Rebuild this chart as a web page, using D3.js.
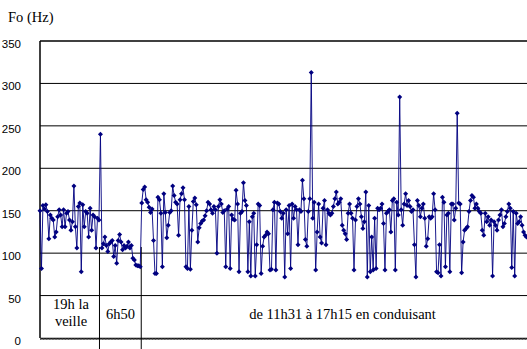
<!DOCTYPE html>
<html>
<head>
<meta charset="utf-8">
<script src="https://cdn.jsdelivr.net/npm/d3@7"></script>
<style>
body{margin:0;background:#fff;}
svg{display:block;}
.serif{font-family:"Liberation Serif","Times New Roman",serif;}
.sans{font-family:"Liberation Sans",Arial,sans-serif;}
</style>
</head>
<body>
<div class="chart"></div>
<script>
// Fo values, in three recording sessions
var eveningF0 = [150,82,156,152,157,149,117,145,141,139,119,125,143,151,145,131,151,131,147,149,
  139,127,137,179,131,106,155,159,78,157,131,149,147,119,153,127,145,143,106,141,139];
var morningF0 = [240,106,111,119,109,102,111,113,115,96,109,88,115,122,113,104,109,106,108,113,
  106,109,94,92,86,85,85,84];
var drivingF0 = [159,175,178,163,160,154,148,152,115,76,76,166,163,147,84,170,148,118,133,148,
  150,179,168,160,158,121,163,170,177,163,84,82,155,81,127,161,165,157,113,130,
  135,138,139,144,150,160,158,151,147,155,151,100,155,163,158,148,150,84,152,155,
  82,145,140,
  139,174,158,78,147,149,183,162,156,78,137,73,143,147,73,110,158,156,76,108,
  119,121,125,123,80,81,151,160,80,159,158,149,141,147,72,151,123,156,82,158,
  141,155,151,110,151,149,186,164,116,108,149,164,313,141,160,80,125,158,119,112,
  153,162,110,151,147,
  145,147,155,164,172,158,160,164,133,127,123,116,147,158,147,141,80,139,155,164,
  158,143,129,137,172,72,156,78,119,80,141,82,153,151,153,158,135,80,147,149,
  151,125,162,164,80,160,145,284,151,133,158,170,156,162,155,149,151,110,72,162,
  156,143,153,158,141,108,117,143,
  141,143,170,151,78,77,110,73,166,160,84,145,147,78,158,158,139,153,265,159,
  158,77,113,127,129,131,149,162,168,166,153,158,153,149,147,127,121,147,137,143,
  133,139,73,137,133,127,139,145,151,131,135,143,149,158,153,83,149,73,147,135,
  137,143,133,125,121,119];
var yTicks = [0,50,100,150,200,250,300,350];
var sessionLabels = [["19h la","veille"],["6h50"],["de 11h31 à 17h15 en conduisant"]];
var yTitle = "Fo (Hz)";

var svgWidth = 527, svgHeight = 349;
var margin = {top: 41, right: 0, bottom: 11, left: 40};

var allF0 = eveningF0.concat(morningF0, drivingF0);
var nEvening = eveningF0.length, nMorning = morningF0.length;

var svg = d3.select(".chart").append("svg")
  .attr("width", svgWidth)
  .attr("height", svgHeight);

var xScale = d3.scaleLinear()
  .domain([0, allF0.length - 1])
  .range([margin.left, svgWidth - margin.right - 0.5]);
var yScale = d3.scaleLinear()
  .domain([0, 350])
  .range([svgHeight - margin.bottom, margin.top]);

// gridlines
svg.append("g").selectAll("line")
  .data(yTicks.filter(d => d > 0))
  .enter().append("line")
  .attr("x1", margin.left).attr("x2", svgWidth)
  .attr("y1", d => yScale(d)).attr("y2", d => yScale(d))
  .attr("stroke", "#000").attr("stroke-width", d => d == 350 ? 1.6 : 1);

// y labels
svg.append("g").selectAll("text")
  .data(yTicks)
  .enter().append("text")
  .attr("class", "sans")
  .attr("x", 21)
  .attr("y", d => yScale(d) + 7)
  .attr("text-anchor", "end")
  .style("font-size", "11.5px")
  .text(d => d);

svg.append("text")
  .attr("class", "serif")
  .attr("x", 8).attr("y", 22)
  .style("font-size", "14.5px")
  .text(yTitle);

// x axis with one tick per point
var xAxis = d3.axisBottom(xScale)
  .tickValues(d3.range(allF0.length))
  .tickSize(2)
  .tickSizeOuter(0)
  .tickFormat("");
var xAxisG = svg.append("g")
  .attr("transform", `translate(0,${yScale(0)})`)
  .call(xAxis);
xAxisG.select(".domain").attr("stroke", "#000").attr("stroke-width", 1.6);
xAxisG.selectAll(".tick line").attr("stroke", "#444").attr("stroke-width", 0.8);

// left axis line
svg.append("line")
  .attr("x1", margin.left).attr("x2", margin.left)
  .attr("y1", yScale(350)).attr("y2", yScale(0))
  .attr("stroke", "#000").attr("stroke-width", 1.5);

// session separators
var sepX = [xScale(nEvening - 1) + 0.5, xScale(nEvening + nMorning - 1) + 1];
svg.append("g").selectAll("line")
  .data(sepX)
  .enter().append("line")
  .attr("x1", d => d).attr("x2", d => d)
  .attr("y1", 247).attr("y2", svgHeight)
  .attr("stroke", "#000").attr("stroke-width", 1);

// line + markers
var line = d3.line()
  .x((d, i) => xScale(i))
  .y(d => yScale(d));
svg.append("path")
  .attr("d", line(allF0))
  .attr("fill", "none")
  .attr("stroke", "#000080")
  .attr("stroke-opacity", 0.9)
  .attr("stroke-width", 1);
svg.append("g").selectAll("path")
  .data(allF0)
  .enter().append("path")
  .attr("d", "M0,-2.5L2.5,0L0,2.5L-2.5,0Z")
  .attr("transform", (d, i) => `translate(${xScale(i)},${yScale(d)})`)
  .attr("fill", "#000080");

// session labels
var labelPos = [{x: 71, y: 309}, {x: 120.5, y: 319}, {x: 342.5, y: 319}];
sessionLabels.forEach(function(lines, k){
  var t = svg.append("text")
    .attr("class", "serif")
    .attr("x", labelPos[k].x).attr("y", labelPos[k].y)
    .attr("text-anchor", "middle")
    .style("font-size", "14.5px");
  lines.forEach(function(s, j){
    t.append("tspan").attr("x", labelPos[k].x).attr("dy", j == 0 ? 0 : 17).text(s);
  });
});
</script>
</body>
</html>
